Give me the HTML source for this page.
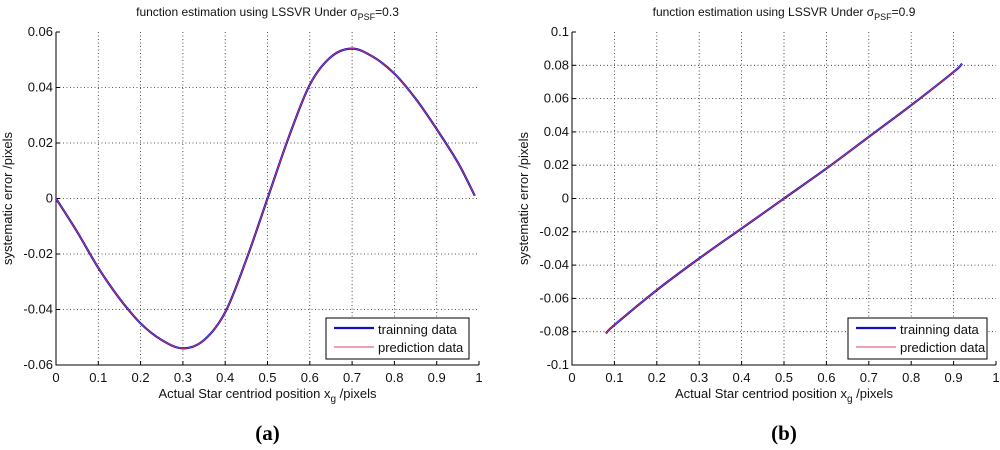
<!DOCTYPE html>
<html><head><meta charset="utf-8"><style>
body{margin:0;background:#fff;width:1000px;height:445px;overflow:hidden}
svg{font-family:"Liberation Sans",sans-serif}
</style></head><body>
<svg id="s" width="1000" height="445"></svg>
<script>
const xA=[0,0.05,0.1,0.15,0.2,0.25,0.3,0.35,0.4,0.45,0.5,0.55,0.6,0.65,0.7,0.75,0.8,0.85,0.9,0.95,0.99];
const yA=[0,-0.012,-0.025,-0.036,-0.045,-0.051,-0.054,-0.051,-0.041,-0.022,0,0.022,0.041,0.051,0.054,0.051,0.045,0.036,0.025,0.013,0.001];
const xB=[0.08,0.1,0.2,0.3,0.4,0.5,0.6,0.7,0.8,0.9,0.92];
const yB=[-0.081,-0.076,-0.055,-0.036,-0.018,0,0.018,0.037,0.056,0.076,0.081];
const xTicks=[0,0.1,0.2,0.3,0.4,0.5,0.6,0.7,0.8,0.9,1];
const yTicksA=[-0.06,-0.04,-0.02,0,0.02,0.04,0.06];
const yTicksB=[-0.1,-0.08,-0.06,-0.04,-0.02,0,0.02,0.04,0.06,0.08,0.1];
const S=document.getElementById('s');const NS='http://www.w3.org/2000/svg';
function el(t,a,p){const e=document.createElementNS(NS,t);for(const k in a)e.setAttribute(k,a[k]);(p||S).appendChild(e);return e;}
function fmt(v){if(v===0)return '0';let s=String(+v.toFixed(2));return s.replace(/^(-?)0\./,'$10.');}
function smooth(p){let d=`M${p[0][0]},${p[0][1]}`;for(let i=0;i<p.length-1;i++){const a=p[i-1]||p[i],b=p[i],c=p[i+1],e=p[i+2]||c;
 d+=`C${b[0]+(c[0]-a[0])/6},${b[1]+(c[1]-a[1])/6} ${c[0]-(e[0]-b[0])/6},${c[1]-(e[1]-b[1])/6} ${c[0]},${c[1]}`;}return d;}
function panel(P){
 const g=el('g',{});
 
 
 const sx=v=>P.x0+(v-P.xmin)/(P.xmax-P.xmin)*(P.x1-P.x0);
 const sy=v=>P.y1-(v-P.ymin)/(P.ymax-P.ymin)*(P.y1-P.y0);
 xTicks.forEach(v=>{const x=sx(v);
  if(v>P.xmin&&v<P.xmax){const l=el('line',{x1:x,x2:x,y1:P.y0,y2:P.y1,stroke:'#222','stroke-width':0.8,'stroke-dasharray':'1,2.5'},g);
  }
  const t=el('text',{x:x,y:P.y1+17,'font-size':13,'text-anchor':'middle',fill:'#111'},g);t.textContent=fmt(v);
  
  el('line',{x1:x,x2:x,y1:P.y1,y2:P.y1-4,stroke:'#000'},g);});
 P.yt.forEach(v=>{const y=sy(v);
  if(v>P.ymin&&v<P.ymax){const l=el('line',{x1:P.x0,x2:P.x1,y1:y,y2:y,stroke:'#222','stroke-width':0.8,'stroke-dasharray':'1,2.5'},g);
  }
  const t=el('text',{x:P.x0-3,y:y+4,'font-size':13,'text-anchor':'end',fill:'#111'},g);t.textContent=fmt(v);
  
  el('line',{x1:P.x0,x2:P.x0+4,y1:y,y2:y,stroke:'#000'},g);});
 const ax=el('path',{d:`M${P.x0},${P.y0}V${P.y1}H${P.x1}`,fill:'none',stroke:'#000','stroke-width':1},g);
 
 const d=smooth(P.xs.map((v,i)=>[sx(v),sy(P.ys[i])]));
 const l1=el('path',{d:d,fill:'none',stroke:'#1010c0','stroke-width':2.2},g);
 
 const l2=el('path',{d:d,fill:'none',stroke:'#e04060','stroke-width':0.8},g);
 
 const tt=el('text',{x:(P.x0+P.x1)/2,y:16,'font-size':12,'text-anchor':'middle',fill:'#111'},g);
 tt.innerHTML='function estimation using  LSSVR Under σ<tspan font-size="9" dy="4">PSF</tspan><tspan dy="-4">='+P.sig+'</tspan>';
 
 const xl=el('text',{x:(P.x0+P.x1)/2,y:398,'font-size':13,'text-anchor':'middle',fill:'#111'},g);
 xl.innerHTML='Actual Star centriod position x<tspan font-size="10" dy="4">g</tspan><tspan dy="-4"> /pixels</tspan>';
 
 const yl=el('text',{x:0,y:0,'font-size':13,'text-anchor':'middle',fill:'#111',transform:`translate(${P.ylx},${(P.y0+P.y1)/2}) rotate(-90)`},g);
 yl.textContent='systematic error /pixels';
 
 const lg=el('g',{},g);
 el('rect',{x:P.lx,y:318,width:P.lw,height:41,fill:'#fff',stroke:'#000'},lg);
 el('line',{x1:P.lx+8,x2:P.lx+48,y1:328,y2:328,stroke:'#1010c0','stroke-width':2.2},lg);
 el('line',{x1:P.lx+8,x2:P.lx+48,y1:347,y2:347,stroke:'#e04060','stroke-width':1},lg);
 const a=el('text',{x:P.lx+52,y:334,'font-size':13,fill:'#111'},lg);a.textContent='trainning data';
 
 const b=el('text',{x:P.lx+52,y:352,'font-size':13,fill:'#111'},lg);b.textContent='prediction data';
 
 const c=el('text',{x:(P.x0+P.x1)/2,y:440,'font-size':21,'font-weight':'bold','font-family':'Liberation Serif,serif','text-anchor':'middle',fill:'#000'},g);
 c.textContent=P.cap;
}
panel({name:'panel-a',x0:56,x1:479,y0:32,y1:365,xmin:0,xmax:1,ymin:-0.06,ymax:0.06,yt:yTicksA,xs:xA,ys:yA,sig:'0.3',ylx:12,lx:326,lw:143,cap:'(a)'});
panel({name:'panel-b',x0:572,x1:996,y0:32,y1:365,xmin:0,xmax:1,ymin:-0.1,ymax:0.1,yt:yTicksB,xs:xB,ys:yB,sig:'0.9',ylx:528,lx:848,lw:139,cap:'(b)'});
</script>
</body></html>
